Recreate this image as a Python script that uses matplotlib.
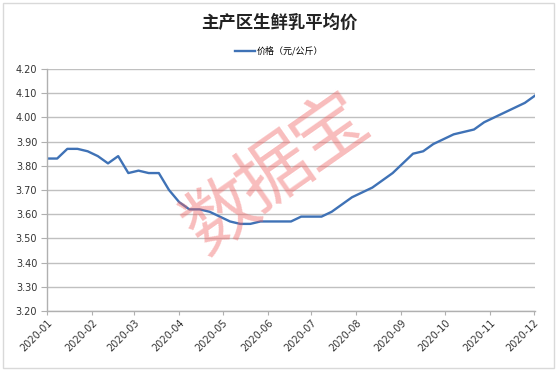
import matplotlib
matplotlib.use("Agg")
import numpy as np
import pandas as pd
import matplotlib.pyplot as plt
import matplotlib.dates as mdates
from matplotlib.patches import Rectangle
from matplotlib.ticker import FormatStrFormatter

# weekly average price of raw milk, main producing areas (yuan/kg), 2020
price = [3.83, 3.83, 3.87, 3.87, 3.86, 3.84, 3.81, 3.84, 3.77, 3.78,
         3.77, 3.77, 3.70, 3.65, 3.62, 3.62, 3.61, 3.59, 3.57, 3.56,
         3.56, 3.57, 3.57, 3.57, 3.57, 3.59, 3.59, 3.59, 3.61, 3.64,
         3.67, 3.69, 3.71, 3.74, 3.77, 3.81, 3.85, 3.86, 3.89, 3.91,
         3.93, 3.94, 3.95, 3.98, 4.00, 4.02, 4.04, 4.06, 4.09]
weeks = pd.date_range("2020-01-01", periods=len(price), freq="7D")

title = "主产区生鲜乳平均价"
series_name = "价格（元/公斤）"
watermark = "数据宝"

cjk = ["Noto Sans CJK SC", "DejaVu Sans"]
plt.rcParams["font.family"] = ["DejaVu Sans", "Noto Sans CJK SC"]

W, H = 558, 373
fig = plt.figure(figsize=(W / 100, H / 100), dpi=100)

# light grey chart border
fig.patches.append(Rectangle((3 / W, 5 / H), 551 / W, 365 / H, transform=fig.transFigure,
                             fill=False, edgecolor="#d9d9d9", linewidth=1))

ax = fig.add_axes([47 / W, 1 - 311 / H, 488 / W, 242 / H])

line, = ax.plot(weeks, price, color="#3f72b6", linewidth=1.7, solid_joinstyle="round")

ax.set_xlim(weeks[0], weeks[-1])
ax.set_ylim(3.2, 4.2)
ax.set_yticks(np.arange(3.2, 4.21, 0.1))
ax.yaxis.set_major_formatter(FormatStrFormatter("%.2f"))
ax.xaxis.set_major_locator(mdates.MonthLocator())
ax.xaxis.set_major_formatter(mdates.DateFormatter("%Y-%m"))

ax.grid(axis="y", color="#c0c0c0", linewidth=1)
ax.set_axisbelow(True)
for s in ["top", "right"]:
    ax.spines[s].set_visible(False)
for s in ["left", "bottom"]:
    ax.spines[s].set_color("#b0b0b0")
    ax.spines[s].set_linewidth(1)

ax.tick_params(axis="y", length=4, color="#b0b0b0", labelsize=7, labelcolor="#333333", pad=3)
ax.tick_params(axis="x", length=3, color="#b0b0b0", labelsize=7, labelcolor="#333333", pad=2)
plt.setp(ax.get_xticklabels(), rotation=45, ha="right", rotation_mode="anchor")

fig.text(279.5 / W, 1 - 23 / H, title, ha="center", va="center",
         fontsize=12.5, fontweight="bold", family=cjk, color="#222222")

fig.legend([line], [series_name], loc="center", bbox_to_anchor=(279 / W, 1 - 51 / H),
           frameon=False, prop={"family": cjk, "size": 6.5}, handlelength=2.2,
           handletextpad=0.2, borderpad=0)

# watermark, one character at a time along a tilted line
ang = np.radians(38)
cx, cy, step = 276, 174, 69
for i, ch in enumerate(watermark):
    px = cx + (i - 1) * step * np.cos(ang)
    py = cy - (i - 1) * step * np.sin(ang)
    fig.text(px / W, 1 - py / H, ch, ha="center", va="center", rotation=35,
             fontsize=53, fontweight="light", family=cjk, color="#f06060", alpha=0.42)

fig.savefig("out.png", dpi=100)
